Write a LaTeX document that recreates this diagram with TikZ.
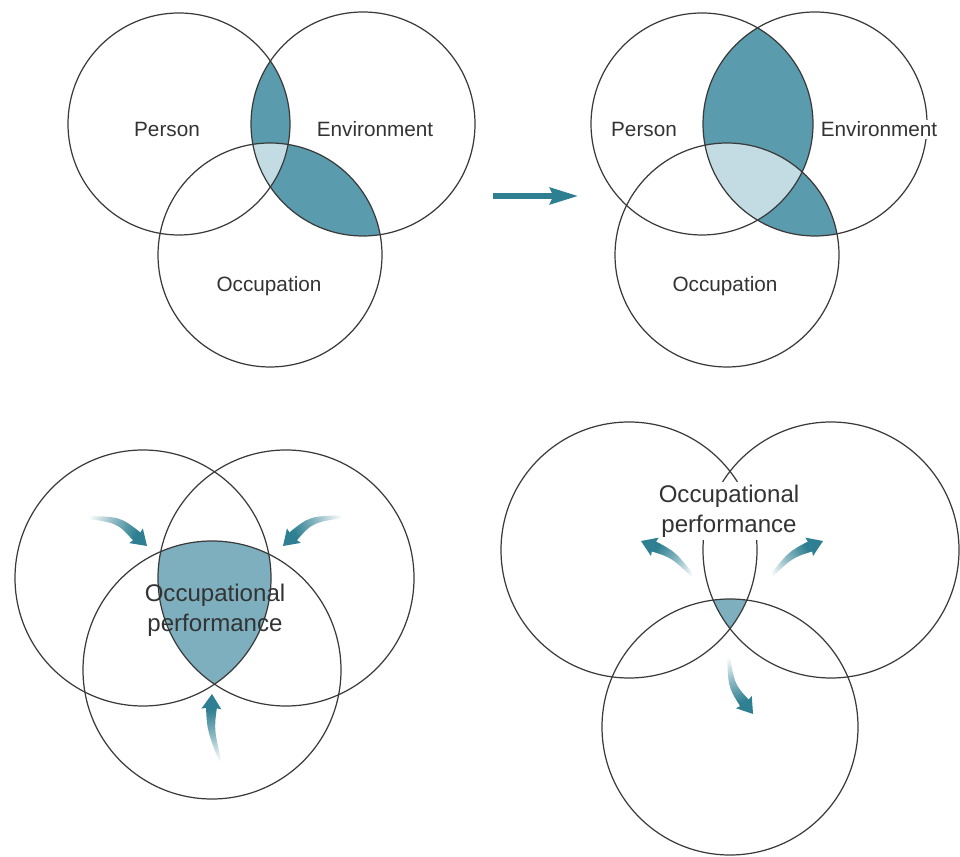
\documentclass[tikz,border=0pt]{standalone}
\usepackage{fontspec}
\setmainfont{Liberation Sans}
\usetikzlibrary{arrows.meta}

\definecolor{ringgray}{HTML}{3A3A3A}
\definecolor{lensdark}{HTML}{5A9CAE}
\definecolor{lenslight}{HTML}{C3DCE3}
\definecolor{coremid}{HTML}{7DAFBE}
\definecolor{arrowteal}{HTML}{2E7F91}
\definecolor{labelgray}{HTML}{333333}

\tikzset{
  ring/.style={draw=ringgray, line width=0.7pt},
  small label/.style={text=labelgray, font=\fontsize{11.8}{14}\selectfont, inner sep=1pt, anchor=base},
  big label/.style={text=labelgray, font=\fontsize{13.7}{17}\selectfont, align=center, inner sep=1.5pt}
}

% curved arrow that fades out towards its tail: tail x, tail y, tip x, tip y, bend
\newcommand\fadearrow[5]{%
  \pgfmathsetmacro\fadx{#3-#1}
  \pgfmathsetmacro\fady{#2-#4}
  \pgfmathsetmacro\falen{veclen(\fadx,\fady)}
  \pgfmathsetmacro\faang{atan2(\fady,\fadx)}
  \pgfmathsetmacro\fashade{\faang-90}
  \pgfmathsetmacro\fahead{atan2(-2*#5,\falen/2)}
  \begin{scope}[shift={(#1,#2)}, rotate=\faang, y=0.02cm]
    \begin{scope}[shift={(\falen,0)}, rotate=\fahead]
      \coordinate (fanl) at (-13,5.5);
      \coordinate (fanr) at (-13,-5.5);
    \end{scope}
    \shade[top color=arrowteal, bottom color=white, middle color=arrowteal!55, shading angle=\fashade]
      (0,1) .. controls (0.5*\falen,2*#5+3.5) .. (fanl) -- (fanr)
      .. controls (0.5*\falen,2*#5-3.5) .. (0,-1) -- cycle;
    \begin{scope}[shift={(\falen,0)}, rotate=\fahead]
      \fill[arrowteal] (-15,10) -- (0,0) -- (-15,-10) -- (-13,0) -- cycle;
    \end{scope}
  \end{scope}}

\begin{document}
\begin{tikzpicture}[x=0.02cm, y=-0.02cm]
  \useasboundingbox (0,0) rectangle (960,857);

  % top left
  \coordinate (tlp) at (179,124);
  \coordinate (tle) at (363,124);
  \coordinate (tlo) at (270,255);
  \begin{scope}
    \clip (tle) circle (112);
    \fill[lensdark] (tlp) circle (111);
    \fill[lensdark] (tlo) circle (112);
    \clip (tlp) circle (111);
    \fill[lenslight] (tlo) circle (112);
  \end{scope}
  \draw[ring] (tlp) circle (111);
  \draw[ring] (tle) circle (112);
  \draw[ring] (tlo) circle (112);
  \node[small label] (tlperson) at (167,137) {Person};
  \node[small label] (tlenv) at (375,137) {Environment};
  \node[small label] (tlocc) at (269,292) {Occupation};

  % arrow between the two
  \coordinate (shiftfrom) at (493,196);
  \coordinate (shiftto) at (578,196);
  \draw[arrowteal, line width=2.9pt, -{Stealth[length=16pt, width=9.5pt, inset=2pt]}] (shiftfrom) -- (shiftto);

  % top right
  \coordinate (trp) at (702,124);
  \coordinate (tre) at (815,124);
  \coordinate (tro) at (727,255);
  \begin{scope}
    \clip (tre) circle (112);
    \fill[lensdark] (trp) circle (111);
    \fill[lensdark] (tro) circle (112);
    \clip (trp) circle (111);
    \fill[lenslight] (tro) circle (112);
  \end{scope}
  \draw[ring] (trp) circle (111);
  \draw[ring] (tre) circle (112);
  \draw[ring] (tro) circle (112);
  \node[small label] (trperson) at (644,137) {Person};
  \node[small label, fill=white] (trenv) at (879,137) {Environment};
  \node[small label] (trocc) at (725,292) {Occupation};

  % bottom left
  \coordinate (blp) at (143,578);
  \coordinate (ble) at (286,578);
  \coordinate (blo) at (212,670);
  \begin{scope}
    \clip (blp) circle (128);
    \clip (ble) circle (128);
    \fill[coremid] (blo) circle (129);
  \end{scope}
  \draw[ring] (blp) circle (128);
  \draw[ring] (ble) circle (128);
  \draw[ring] (blo) circle (129);
  \node[big label] (blperf) at (215,610) {Occupational\\performance};
  \fadearrow{80}{517}{147}{546}{6.5}
  \fadearrow{350}{516}{283}{546}{-6.5}
  \fadearrow{221}{764}{212}{694}{3}

  % bottom right
  \coordinate (brp) at (629,550);
  \coordinate (bre) at (831,550);
  \coordinate (bro) at (730,727);
  \begin{scope}
    \clip (brp) circle (128);
    \clip (bre) circle (128);
    \fill[coremid] (bro) circle (128);
  \end{scope}
  \draw[ring] (brp) circle (128);
  \draw[ring] (bre) circle (128);
  \draw[ring] (bro) circle (128);
  \node[big label, fill=white] (brperf) at (729,511) {Occupational\\performance};
  \fadearrow{698}{582}{641}{541}{-4}
  \fadearrow{766}{582}{823}{541}{4}
  \fadearrow{728}{650}{753}{714}{-5}
\end{tikzpicture}
\end{document}
